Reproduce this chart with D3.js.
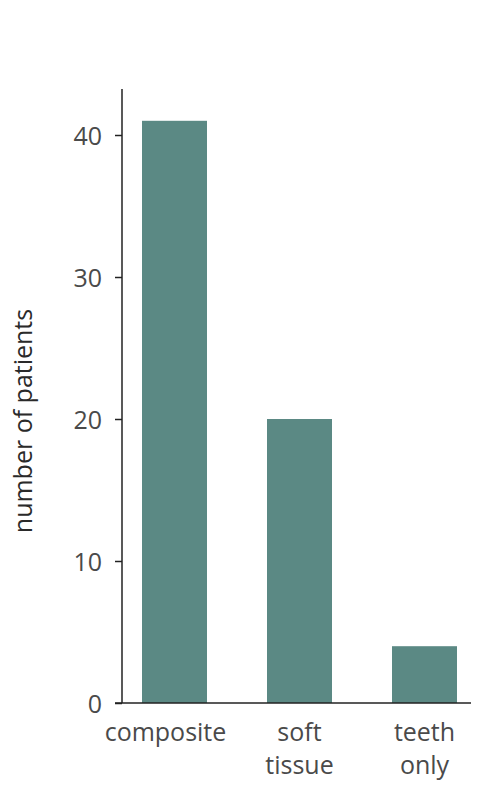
<!DOCTYPE html>
<html>
<head>
<meta charset="utf-8">
<script src="https://cdn.jsdelivr.net/npm/d3@7"></script>
<style>
  body { margin: 0; background: #fff; }
  text { font-family: "Open Sans", sans-serif; }
</style>
</head>
<body>
<div id="chart"></div>
<script>
// Data
const categories = ["composite", "soft tissue", "teeth only"];
const categoryLines = [["composite"], ["soft", "tissue"], ["teeth", "only"]];
const patients = [41, 20, 4];
const yTicks = [0, 10, 20, 30, 40];

const width = 487;
const height = 800;
const margin = { top: 89, right: 10, bottom: 97, left: 122 };

const svg = d3.select("#chart")
    .append("svg")
    .attr("width", width)
    .attr("height", height);

// Scales
const xScale = d3.scaleBand()
    .domain(categories)
    .range([margin.left, 477])
    .paddingInner(0.48)
    .paddingOuter(0.16);

const yScale = d3.scaleLinear()
    .domain([0, 40])
    .range([703, 135]);

// Bars
svg.selectAll("rect.bar")
    .data(categories)
    .enter()
    .append("rect")
    .attr("class", "bar")
    .attr("x", (d) => xScale(d))
    .attr("width", xScale.bandwidth())
    .attr("y", (d, i) => yScale(patients[i]))
    .attr("height", (d, i) => yScale(0) - yScale(patients[i]))
    .style("fill", "#5b8984");

// Y axis
const yAxis = d3.axisLeft(yScale)
    .tickValues(yTicks)
    .tickSize(7)
    .tickPadding(13)
    .tickFormat(d3.format("d"));

const yg = svg.append("g")
    .attr("transform", `translate(${margin.left}, 0)`)
    .call(yAxis);

yg.select(".domain").remove();
yg.selectAll(".tick line").attr("stroke", "#222").attr("stroke-width", 1.5);
yg.selectAll(".tick text")
    .style("font-size", "25px")
    .style("fill", "#4a4a4a")
    .attr("dy", "0.36em");

// vertical axis line
svg.append("line")
    .attr("x1", margin.left).attr("x2", margin.left)
    .attr("y1", margin.top).attr("y2", yScale(0))
    .attr("stroke", "#222").attr("stroke-width", 1.5);

// horizontal baseline
svg.append("line")
    .attr("x1", 115).attr("x2", 471)
    .attr("y1", yScale(0)).attr("y2", yScale(0))
    .attr("stroke", "#222").attr("stroke-width", 1.5);

// X labels (the long first label sits a bit left of its bar, as in the original)
categories.forEach((c, i) => {
    const cx = xScale(c) + xScale.bandwidth() / 2 + (i === 0 ? -9 : 0);
    const t = svg.append("text")
        .attr("x", cx)
        .attr("y", 741)
        .attr("text-anchor", "middle")
        .style("font-size", "25px")
        .style("fill", "#4a4a4a");
    categoryLines[i].forEach((line, j) => {
        t.append("tspan")
            .attr("x", cx)
            .attr("dy", j === 0 ? 0 : 33)
            .text(line);
    });
});

// Y-axis label
svg.append("text")
    .attr("transform", "rotate(-90)")
    .attr("x", -421)
    .attr("y", 32)
    .style("text-anchor", "middle")
    .style("font-size", "25px")
    .style("fill", "#2a2a2a")
    .text("number of patients");
</script>
</body>
</html>
